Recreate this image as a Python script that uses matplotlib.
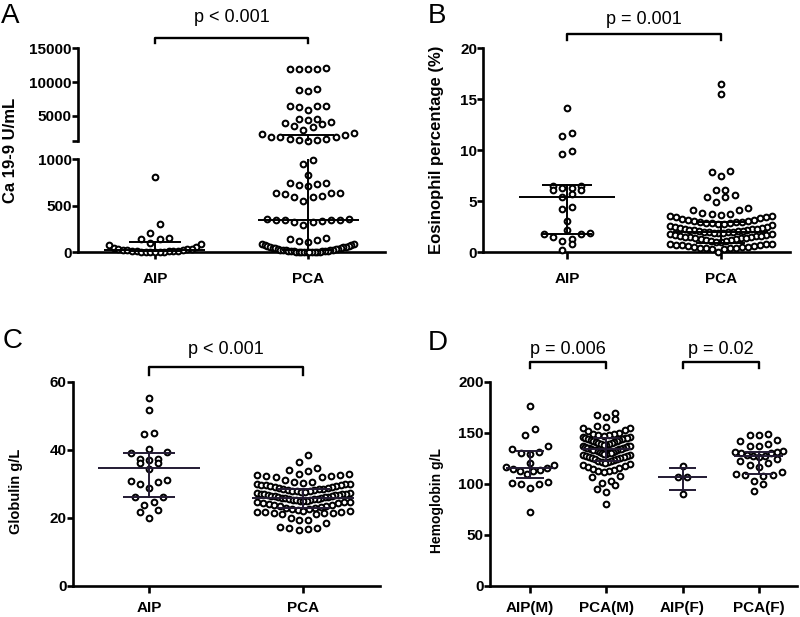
import numpy as np
import matplotlib
matplotlib.use('Agg')
import matplotlib.pyplot as plt
from matplotlib.transforms import blended_transform_factory

plt.rcParams['font.family'] = ['Liberation Sans', 'DejaVu Sans']

# ---- data ----
groups_2 = ['AIP', 'PCA']
groups_4 = ['AIP(M)', 'PCA(M)', 'AIP(F)', 'PCA(F)']

# A: Ca 19-9 (U/mL)
aip_ca = [810, 303, 210, 150, 145, 140, 98, 88, 78, 62, 46, 40, 35, 31, 27, 24,
          21, 19, 16, 14, 11, 9, 7, 5, 4, 3, 2, 1]
pca_ca = [12050, 12000, 12000, 11950, 11900, 9050, 8800, 8700, 6450, 6400, 6400,
          6250, 5950, 4600, 4500, 4400, 4150, 4000, 3800, 3500, 3400, 2950, 2450,
          2345, 2200, 1950, 1860, 1860, 1570, 1570, 1460, 1460, 1360, 990, 950, 830,
          750, 745, 730, 720, 715, 640, 638, 635, 630, 600, 595, 590, 555, 357, 355,
          350, 345, 345, 342, 340, 330, 325, 290, 152, 145, 135, 125, 110, 92, 88,
          81, 76, 70, 66, 61, 57, 52, 48, 45, 41, 38, 35, 33, 30, 27, 25, 22, 20,
          18, 16, 14, 12, 10, 9, 8, 7, 6, 5, 4, 3, 2, 2, 1, 1]
ca_med = [20, 347]
ca_q1 = [5, 25]
ca_q3 = [114, 2200]

# B: eosinophil percentage
aip_eos = [14.1, 11.7, 11.4, 9.9, 9.6, 6.5, 6.5, 6.3, 6.3, 6.1, 6.1, 5.7, 5.4, 4.4,
           4.2, 3.1, 2.2, 1.9, 1.8, 1.8, 1.5, 1.3, 1.1, 0.8, 0.2]
pca_eos = [16.5, 15.5, 8.0, 7.9, 7.5, 6.1, 6.1, 5.6, 5.45, 5.4, 4.9, 4.3,
           4.1, 4.1, 3.9, 3.8, 3.8, 3.7, 3.6, 3.6, 3.5, 3.5, 3.4,
           3.3, 3.2, 3.2, 3.1, 3.1, 3.0, 3.0, 3.0, 2.9, 2.9, 2.9, 2.8, 2.8, 2.7,
           2.6, 2.5, 2.5, 2.4, 2.4, 2.3, 2.3, 2.3, 2.2, 2.2, 2.2, 2.1, 2.1, 2.1,
           2.0, 2.0, 2.0, 2.0, 1.9, 1.9, 1.9, 1.8, 1.8,
           1.7, 1.7, 1.6, 1.6, 1.6, 1.5, 1.5, 1.5, 1.4, 1.4, 1.4, 1.3, 1.3, 1.2,
           1.2, 1.1, 1.1, 1.0, 1.0,
           0.8, 0.8, 0.8, 0.7, 0.7, 0.7, 0.6, 0.6, 0.5, 0.5, 0.5, 0.4, 0.4, 0.4,
           0.4, 0.3, 0.3, 0.0]
eos_med = [5.45, 2.0]
eos_q1 = [1.8, 0.9]
eos_q3 = [6.55, 3.0]

# C: globulin g/L
aip_glob = [55.1, 51.7, 45.0, 44.5, 40.2, 39.2, 38.9, 37.3, 37.2, 37.0, 36.2, 36.0,
            34.3, 31.1, 30.9, 30.6, 29.9, 28.6, 26.2, 26.0, 24.7, 23.7, 22.3, 21.6,
            19.8]
pca_glob = [38.4, 36.3, 34.5, 34.0,
            33.6, 33.0, 32.9, 32.5, 32.5, 32.4, 32.3, 31.9, 31.9, 31.1,
            30.6, 30.4, 30.3, 30.0, 29.9, 29.8, 29.6, 29.6, 29.5, 29.3, 29.2,
            29.0, 28.9, 28.8, 28.6, 28.5, 28.5, 28.3, 28.2, 28.1, 28.0, 27.9, 27.8,
            27.6, 27.6, 27.4, 27.3, 27.1, 27.1, 27.0, 26.9, 26.8, 26.6, 26.6, 26.5,
            26.4, 26.3, 26.1, 26.1, 26.0, 25.9, 25.8, 25.7, 25.6, 25.5, 25.5, 25.3,
            25.2, 25.1, 25.0, 24.9, 24.8, 24.6, 24.6, 24.5, 24.4, 24.2, 24.0, 23.8,
            23.6, 23.5, 23.4, 23.2, 23.0, 22.8, 22.7, 22.5, 22.2, 22.0, 21.9, 21.8,
            21.7, 21.6, 21.5, 21.4, 21.3, 21.2, 21.0, 19.8, 19.3, 19.3, 18.5, 17.4,
            17.0, 16.9, 16.6, 16.4]
glob_med = [34.5, 25.7]
glob_q1 = [26.0, 23.0]
glob_q3 = [39.0, 28.5]

# D: hemoglobin g/L
aipm_hb = [176, 154, 148, 137, 134, 131, 130, 129, 120, 118, 116, 115, 114, 113,
           112, 112, 110, 102, 101, 100, 100, 96, 72]
pcam_hb = [169, 167, 165, 163, 157, 156, 155, 155, 153, 152, 150, 149, 149, 148,
           148, 147, 146, 146, 145, 145, 145, 144, 144, 143, 143, 142, 142, 141,
           141, 140, 140, 139, 139, 138, 138, 137, 137, 137, 136, 136, 135, 135,
           135, 134, 134, 134, 133, 133, 133, 132, 132, 131, 131, 130, 130, 130,
           129, 129, 128, 128, 127, 127, 126, 126, 125, 125, 124, 124, 123, 122,
           122, 121, 121, 120, 119, 118, 117, 116, 115, 114, 113, 112, 112, 111,
           108, 107, 103, 101, 99, 95, 92, 80]
aipf_hb = [117, 107, 107, 90]
pcaf_hb = [149, 148, 148, 143, 142, 139, 137, 137, 132, 131, 131, 130, 130, 128,
           127, 127, 126, 124, 122, 120, 118, 116, 111, 110, 109, 109, 108, 103,
           100, 93]
hb_med = [115.5, 134, 107, 127]
hb_q1 = [106, 122, 94, 110]
hb_q3 = [132, 145, 115, 131]

# ---- helpers ----
fig = plt.figure(figsize=(8, 6.17), dpi=100)
W, H = 800, 617


def rect(left, top, right, bottom):
    # pixel box -> figure fraction
    return [left / W, 1 - bottom / H, (right - left) / W, (bottom - top) / H]


def style(ax, lab_pad):
    for s in ['top', 'right']:
        ax.spines[s].set_visible(False)
    for s in ['left', 'bottom']:
        ax.spines[s].set_linewidth(1.9)
    ax.tick_params(axis='y', width=1.9, length=4, pad=0.5, labelsize=11)
    ax.tick_params(axis='x', width=1.9, length=5, pad=lab_pad, labelsize=11)
    for t in ax.get_xticklabels() + ax.get_yticklabels():
        t.set_fontweight('bold')


def swarm(ax, xc, vals, maxw=0.31, row_px=9.0, step_px=9.2):
    # prism-like rows: points binned by height, lowest in the middle
    vals = np.asarray(vals, float)
    y_px = ax.transData.transform(np.column_stack([np.zeros_like(vals), vals]))[:, 1]
    ppu = ax.transData.transform((1, 0))[0] - ax.transData.transform((0, 0))[0]
    order = np.argsort(y_px, kind='stable')
    xs = np.full(len(vals), float(xc))
    i = 0
    while i < len(order):
        j = i
        while j < len(order) and y_px[order[j]] - y_px[order[i]] < row_px:
            j += 1
        row = order[i:j]
        k = len(row)
        step = step_px if k < 2 else min(step_px, 2 * maxw * ppu / (k - 1))
        for r, idx in enumerate(row):
            if k % 2:
                slot = ((r + 1) // 2) * (-1 if r % 2 else 1)
            else:
                slot = (r // 2 + 0.5) * (-1 if r % 2 == 0 else 1)
            xs[idx] = xc + slot * step / ppu
        i = j
    return xs


def dots(ax, xc, vals, **kw):
    xs = swarm(ax, xc, vals, **kw)
    ax.scatter(xs, vals, s=17, facecolor='white', edgecolor='black',
               linewidth=1.45, zorder=3, clip_on=False)


def summary(ax, xc, med, q1, q3, wm=0.33, wq=0.17, color='black'):
    lo, hi = ax.get_ylim()
    for v, w in ((med, wm), (q1, wq), (q3, wq)):
        if lo <= v <= hi:
            ax.plot([xc - w, xc + w], [v, v], color=color, lw=1.4, zorder=4,
                    solid_capstyle='butt')
    a, b = max(q1, lo), min(q3, hi)
    if a < b:
        ax.plot([xc, xc], [a, b], color=color, lw=1.4, zorder=4)


def bracket(ax, x0, x1, y_px, drop_px, text, text_px):
    tr = blended_transform_factory(ax.transData, fig.transFigure)
    y = 1 - y_px / H
    y2 = 1 - (y_px + drop_px) / H
    ax.plot([x0, x0, x1, x1], [y2, y, y, y2], transform=tr, color='black',
            lw=1.7, clip_on=False)
    ax.text((x0 + x1) / 2, 1 - text_px / H, text, transform=tr, ha='center',
            va='center', fontsize=13)


# ---- panel A (broken y axis) ----
axA = fig.add_axes(rect(78, 159.3, 385, 252.3))
axA2 = fig.add_axes(rect(78, 48.3, 385, 141.3))
for ax in (axA, axA2):
    ax.set_xlim(-0.503, 1.503)
axA.set_ylim(0, 1000)
axA2.set_ylim(1250, 15000)
axA.set_yticks([0, 500, 1000])
axA2.set_yticks([1250, 5000, 10000, 15000], ['', '5000', '10000', '15000'])
axA.set_xticks([0, 1], groups_2)
style(axA, 9)
style(axA2, 9)
axA2.spines['bottom'].set_visible(False)
axA2.tick_params(axis='x', bottom=False, labelbottom=False)

for xc, vals in enumerate([aip_ca, pca_ca]):
    vals = np.asarray(vals)
    dots(axA, xc, vals[vals <= 1000], maxw=0.3)
    dots(axA2, xc, vals[vals > 1000], maxw=0.3)
    for ax in (axA, axA2):
        summary(ax, xc, ca_med[xc], ca_q1[xc], ca_q3[xc])
bracket(axA2, 0, 1, 38, 4.5, 'p < 0.001', 18)
fig.text(11 / W, 1 - 150 / H, 'Ca 19-9 U/mL', rotation=90, ha='center',
         va='center', fontsize=12, fontweight='bold')

# ---- panel B ----
axB = fig.add_axes(rect(483.3, 48.3, 790, 252.3))
axB.set_xlim(-0.545, 1.45)
axB.set_ylim(0, 20)
axB.set_yticks([0, 5, 10, 15, 20])
axB.set_xticks([0, 1], groups_2)
style(axB, 9)
for xc, vals in enumerate([aip_eos, pca_eos]):
    dots(axB, xc, vals, maxw=0.33)
    summary(axB, xc, eos_med[xc], eos_q1[xc], eos_q3[xc], wm=0.31, wq=0.16)
bracket(axB, 0, 1, 34, 5.5, 'p = 0.001', 19)
fig.text(437 / W, 1 - 150 / H, 'Eosinophil percentage (%)', rotation=90,
         ha='center', va='center', fontsize=12, fontweight='bold')

# ---- panel C ----
axC = fig.add_axes(rect(72.7, 381.7, 380, 585.7))
axC.set_xlim(-0.494, 1.497)
axC.set_ylim(0, 60)
axC.set_yticks([0, 20, 40, 60])
axC.set_xticks([0, 1], groups_2)
style(axC, 6)
for xc, vals in enumerate([aip_glob, pca_glob]):
    dots(axC, xc, vals, maxw=0.3)
    summary(axC, xc, glob_med[xc], glob_q1[xc], glob_q3[xc], color='#231a33')
bracket(axC, 0, 1, 366.5, 8, 'p < 0.001', 350)
fig.text(16 / W, 1 - 491 / H, 'Globulin g/L', rotation=90, ha='center',
         va='center', fontsize=10.5, fontweight='bold')

# ---- panel D ----
axD = fig.add_axes(rect(490, 381.7, 797, 585.7))
axD.set_xlim(-0.524, 3.5)
axD.set_ylim(0, 200)
axD.set_yticks([0, 50, 100, 150, 200])
axD.set_xticks([0, 1, 2, 3], groups_4)
style(axD, 6)
for xc, vals in enumerate([aipm_hb, pcam_hb, aipf_hb, pcaf_hb]):
    dots(axD, xc, vals, maxw=0.31)
    summary(axD, xc, hb_med[xc], hb_q1[xc], hb_q3[xc], wm=0.32, wq=0.18,
            color='#231a33')
bracket(axD, 0, 1, 362, 6, 'p = 0.006', 349)
bracket(axD, 2, 3, 362, 6, 'p = 0.02', 349)
fig.text(437 / W, 1 - 501 / H, 'Hemoglobin g/L', rotation=90, ha='center',
         va='center', fontsize=10, fontweight='bold')

# panel letters
for lab, x, y in [('A', 1, 16), ('B', 428, 16), ('C', 3, 341), ('D', 428, 343)]:
    fig.text(x / W, 1 - y / H, lab, fontsize=20, ha='left', va='center')

fig.savefig('out.png', dpi=100)
